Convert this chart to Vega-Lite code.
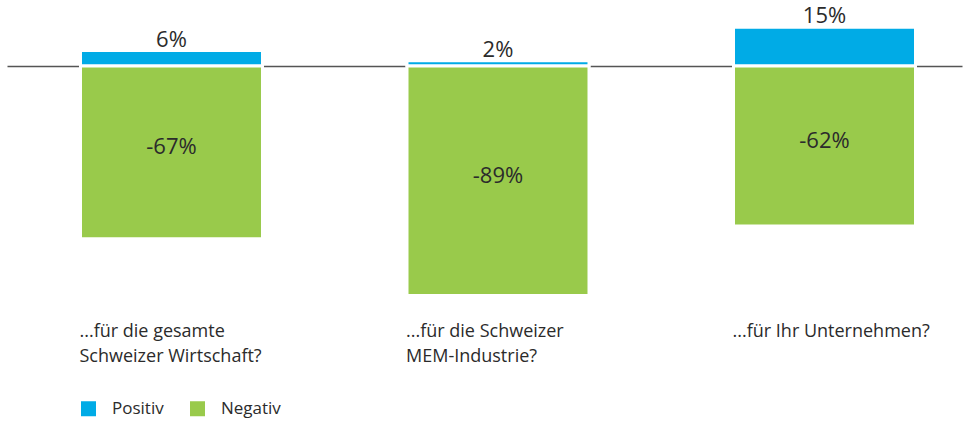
{
  "width": 955,
  "height": 305,
  "autosize": {"type": "none"},
  "padding": {"left": 7, "right": 12, "top": 0, "bottom": 118},
  "background": "white",
  "config": {
    "view": {"stroke": null},
    "font": "Open Sans",
    "text": {"font": "Open Sans", "color": "#2b2b2b"}
  },
  "data": {
    "values": [
      {"frage": "...für die gesamte|Schweizer Wirtschaft?", "typ": "Positiv", "wert": 6, "label": "6%"},
      {"frage": "...für die gesamte|Schweizer Wirtschaft?", "typ": "Negativ", "wert": -67, "label": "-67%"},
      {"frage": "...für die Schweizer|MEM-Industrie?", "typ": "Positiv", "wert": 2, "label": "2%"},
      {"frage": "...für die Schweizer|MEM-Industrie?", "typ": "Negativ", "wert": -89, "label": "-89%"},
      {"frage": "...für Ihr Unternehmen?", "typ": "Positiv", "wert": 15, "label": "15%"},
      {"frage": "...für Ihr Unternehmen?", "typ": "Negativ", "wert": -62, "label": "-62%"}
    ]
  },
  "layer": [
    {
      "mark": {"type": "bar", "stroke": "white", "strokeWidth": 3},
      "encoding": {
        "x": {
          "field": "frage",
          "type": "nominal",
          "sort": null,
          "scale": {"paddingInner": 0.4426, "paddingOuter": 0.18375, "align": 0.6125},
          "axis": {
            "title": null,
            "domain": false,
            "ticks": false,
            "labelAngle": 0,
            "labelAlign": "left",
            "labelBaseline": "alphabetic",
            "labelOffset": -92,
            "labelPadding": 31,
            "labelFontSize": 18,
            "labelFont": "Open Sans",
            "labelColor": "#2b2b2b",
            "labelLineHeight": 25,
            "labelLimit": 0,
            "labelExpr": "split(datum.label, '|')"
          }
        },
        "y": {
          "field": "wert",
          "type": "quantitative",
          "stack": null,
          "scale": {"domain": [-92.64, 25.58], "nice": false, "zero": false},
          "axis": {
            "title": null,
            "values": [0],
            "grid": true,
            "gridColor": "#555555",
            "gridWidth": 1.5,
            "gridOpacity": 1,
            "domain": false,
            "ticks": false,
            "labels": false
          }
        },
        "color": {
          "field": "typ",
          "type": "nominal",
          "scale": {"domain": ["Positiv", "Negativ"], "range": ["#00abe6", "#99ca4b"]},
          "legend": {
            "title": null,
            "orient": "none",
            "legendX": 73,
            "legendY": 400,
            "direction": "horizontal",
            "symbolType": "square",
            "symbolSize": 225,
            "symbolStrokeWidth": 0,
            "labelFontSize": 17,
            "labelFont": "Open Sans",
            "labelColor": "#2b2b2b",
            "labelOffset": 15,
            "columnPadding": 25
          }
        }
      }
    },
    {
      "transform": [{"filter": "datum.wert > 0"}],
      "mark": {"type": "text", "fontSize": 22, "baseline": "alphabetic", "dy": -4},
      "encoding": {
        "x": {"field": "frage", "type": "nominal", "sort": null},
        "y": {"field": "wert", "type": "quantitative"},
        "text": {"field": "label"}
      }
    },
    {
      "transform": [
        {"filter": "datum.wert < 0"},
        {"calculate": "datum.wert / 2", "as": "mitte"}
      ],
      "mark": {"type": "text", "fontSize": 22, "baseline": "middle", "dy": -5},
      "encoding": {
        "x": {"field": "frage", "type": "nominal", "sort": null},
        "y": {"field": "mitte", "type": "quantitative"},
        "text": {"field": "label"}
      }
    }
  ]
}
